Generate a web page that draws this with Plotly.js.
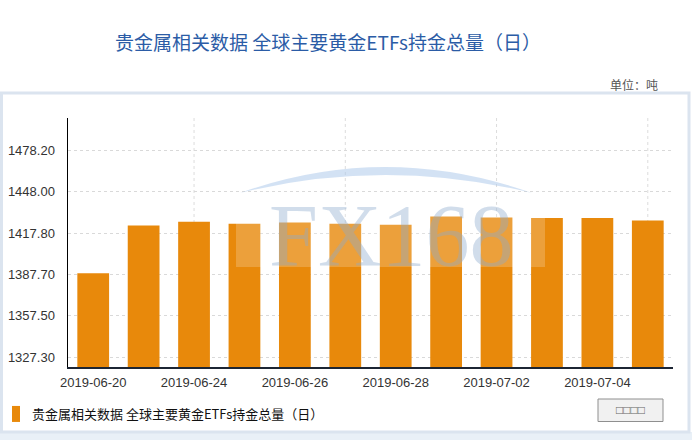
<!DOCTYPE html>
<html>
<head>
<meta charset="utf-8">
<script src="https://cdn.plot.ly/plotly-3.0.1.min.js"></script>
<style>
  html, body { margin: 0; padding: 0; background: #ffffff; }
  #chart { width: 692px; height: 440px; }
</style>
</head>
<body>
<div id="chart"></div>
<script>
// ---- data ----
const dates = ["2019-06-20", "2019-06-21", "2019-06-24", "2019-06-25", "2019-06-26", "2019-06-27",
               "2019-06-28", "2019-07-01", "2019-07-02", "2019-07-03", "2019-07-04", "2019-07-05"];
const holdings = [1388.5, 1423.5, 1426.2, 1424.7, 1425.6, 1424.7,
                  1424.0, 1430.0, 1429.2, 1428.9, 1428.9, 1427.1];
const yTickLabels = ["1327.30", "1357.50", "1387.70", "1417.80", "1448.00", "1478.20"];
const seriesName = "贵金属相关数据 全球主要黄金ETFs持金总量（日）";
const chartTitle = "贵金属相关数据 全球主要黄金ETFs持金总量（日）";
const unitLabel = "单位：吨";
const buttonLabel = "□□□□";

// ---- layout helpers (pixel -> paper) ----
const W = 692, H = 440;
const M = { l: 68, r: 19, t: 118, b: 73 };
const PW = W - M.l - M.r, PH = H - M.t - M.b;
const px = x => (x - M.l) / PW;
const py = y => (H - M.b - y) / PH;

const CJK = "'Noto Sans CJK SC', 'Noto Sans', sans-serif";
const SANS = "'Liberation Sans', Arial, sans-serif";

const trace = {
  type: "bar",
  x: dates,
  y: holdings,
  name: seriesName,
  marker: { color: "#e8890b", line: { width: 0 } },
  hovertemplate: "%{x}<br>%{y:.2f} 吨<extra></extra>"
};

const gridDates = dates.filter((d, i) => i % 3 === 2);

const shapes = [];
// outer frame
shapes.push({ type: "rect", xref: "paper", yref: "paper", x0: px(0), x1: px(W), y0: py(H), y1: py(432),
  fillcolor: "#e9f0f7", line: { width: 0 }, layer: "below" });
shapes.push({ type: "rect", xref: "paper", yref: "paper", x0: px(1.5), x1: px(689), y0: py(432), y1: py(93),
  fillcolor: "rgba(0,0,0,0)", line: { color: "#dbe4ef", width: 3 }, layer: "below" });
// vertical dotted gridlines
gridDates.forEach(d => shapes.push({ type: "line", xref: "x", yref: "paper", x0: d, x1: d, y0: 0, y1: 1,
  line: { color: "#dcdcdc", width: 1, dash: "dot" }, layer: "below" }));
// watermark arc
const arc = `M${px(240)},${py(193)} Q${px(385)},${py(141)} ${px(532)},${py(193)} Q${px(385)},${py(157)} ${px(240)},${py(193)} Z`;
shapes.push({ type: "path", xref: "paper", yref: "paper", path: arc,
  fillcolor: "rgba(175,203,235,0.55)", line: { width: 0 }, layer: "above" });
// watermark light panel
shapes.push({ type: "rect", xref: "paper", yref: "paper", x0: px(236), x1: px(545), y0: py(267), y1: py(204),
  fillcolor: "rgba(255,255,255,0.2)", line: { width: 0 }, layer: "above" });
// button
shapes.push({ type: "rect", xref: "paper", yref: "paper", x0: px(598), x1: px(663), y0: py(421.5), y1: py(399),
  fillcolor: "#f1f1f1", line: { color: "#8f8f8f", width: 1 }, layer: "above" });

const annotations = [
  { xref: "paper", yref: "paper", x: px(391), y: py(235), text: "FX168", showarrow: false,
    xanchor: "center", yanchor: "middle",
    font: { family: "'Liberation Serif', 'DejaVu Serif', serif", size: 88, color: "rgba(140,170,205,0.4)" } },
  { xref: "paper", yref: "paper", x: px(660), y: py(84), text: unitLabel, showarrow: false,
    xanchor: "right", yanchor: "middle", font: { family: CJK, size: 12, color: "#555555" } },
  { xref: "paper", yref: "paper", x: px(630.5), y: py(410), text: buttonLabel, showarrow: false,
    xanchor: "center", yanchor: "middle", font: { family: SANS, size: 12, color: "#666666" } }
];

const layout = {
  width: W, height: H,
  margin: M,
  paper_bgcolor: "#ffffff",
  plot_bgcolor: "rgba(0,0,0,0)",
  bargap: 0.37,
  title: {
    text: chartTitle, xref: "container", yref: "container",
    x: 328 / W, y: 1 - 43 / H, xanchor: "center", yanchor: "middle",
    font: { family: CJK, size: 19, color: "#2b5ca6" }
  },
  xaxis: {
    type: "category",
    range: [-0.5, dates.length - 0.5],
    tickmode: "array",
    tickvals: dates.filter((d, i) => i % 2 === 0),
    ticktext: dates.filter((d, i) => i % 2 === 0),
    showgrid: false,
    showline: true, linecolor: "#1c2533", linewidth: 1.5,
    ticks: "", ticklabelstandoff: 3,
    tickfont: { family: SANS, size: 13, color: "#333333" },
    fixedrange: true
  },
  yaxis: {
    range: [1320, 1502],
    tickmode: "array",
    tickvals: yTickLabels.map(Number),
    ticktext: yTickLabels,
    showgrid: true, gridcolor: "#d9d9d9", griddash: "dot", gridwidth: 1,
    zeroline: false,
    showline: true, linecolor: "#000000", linewidth: 1.5,
    ticks: "", ticklabelstandoff: 9,
    tickfont: { family: SANS, size: 13, color: "#333333" },
    fixedrange: true
  },
  showlegend: true,
  legend: {
    orientation: "h",
    xref: "container", yref: "container",
    x: 0, y: 1 - 414 / H, xanchor: "left", yanchor: "middle",
    font: { family: CJK, size: 13, color: "#111111" },
    bgcolor: "rgba(0,0,0,0)"
  },
  shapes: shapes,
  annotations: annotations
};

Plotly.newPlot("chart", [trace], layout, { displayModeBar: false, staticPlot: true }).then(() => {
  // narrow, tall legend swatch and tighter text gap, as in the reference
  document.querySelectorAll(".legendpoints path").forEach(p => p.setAttribute("d", "M0,8H-8V-8H0Z"));
  document.querySelectorAll(".legendtext").forEach(t => {
    const x0 = Number(t.getAttribute("x")) || 40;
    t.setAttribute("x", x0 - 8);
  });
});
</script>
</body>
</html>
